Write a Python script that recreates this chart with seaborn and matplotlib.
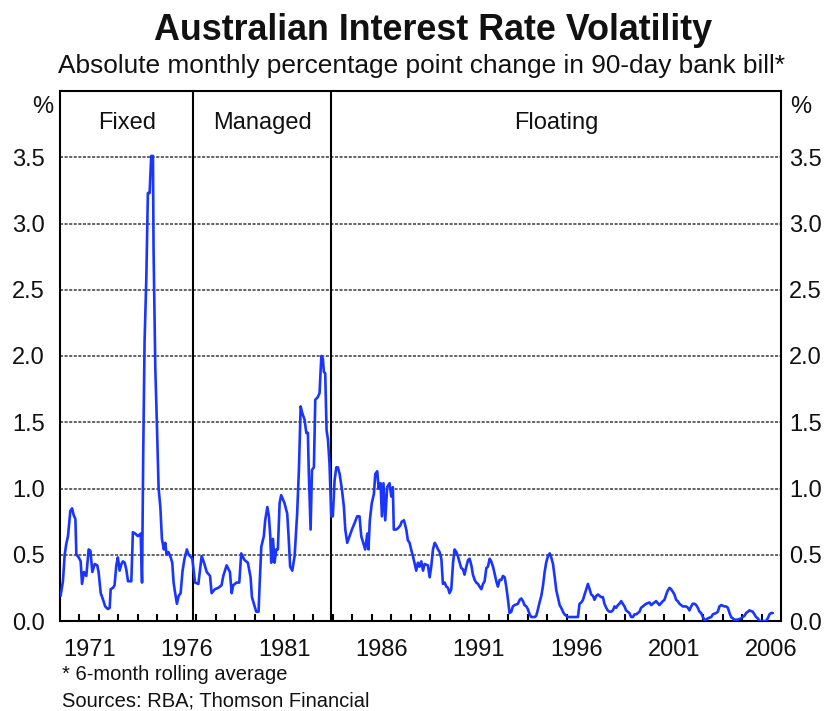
import matplotlib
matplotlib.use("Agg")
import matplotlib.pyplot as plt
import seaborn as sns
import pandas as pd

# ---- data (decimal years, 6-month rolling avg of abs monthly change, % pts) ----
years_fixed = [1970.03, 1970.15, 1970.24, 1970.32, 1970.41, 1970.53, 1970.62, 1970.70, 1970.79, 1970.84,
               1970.96, 1971.06, 1971.13, 1971.23, 1971.35, 1971.47, 1971.56, 1971.66, 1971.78, 1971.91,
               1971.98, 1972.09, 1972.21, 1972.32, 1972.46, 1972.55, 1972.60, 1972.72, 1972.80, 1972.89,
               1972.97, 1973.06, 1973.15, 1973.23, 1973.32, 1973.40, 1973.49, 1973.66, 1973.74, 1973.86,
               1974.00, 1974.14, 1974.21, 1974.27, 1974.34, 1974.43, 1974.51, 1974.60, 1974.68, 1974.77,
               1974.80, 1974.89, 1974.97, 1975.06, 1975.15, 1975.23, 1975.33, 1975.40, 1975.47, 1975.57,
               1975.68, 1975.76, 1975.83, 1975.91, 1976.00, 1976.09, 1976.19, 1976.29, 1976.39, 1976.51,
               1976.60, 1976.68, 1976.79]
vol_fixed = [0.19, 0.30, 0.50, 0.58, 0.64, 0.83, 0.85, 0.80, 0.77, 0.50,
             0.48, 0.45, 0.28, 0.37, 0.34, 0.54, 0.53, 0.37, 0.43, 0.42,
             0.37, 0.21, 0.16, 0.11, 0.09, 0.10, 0.24, 0.25, 0.27, 0.42,
             0.48, 0.38, 0.43, 0.45, 0.44, 0.39, 0.30, 0.30, 0.67, 0.66,
             0.64, 0.66, 0.29, 1.25, 2.11, 2.59, 3.23, 3.23, 3.51, 3.51,
             2.82, 1.91, 1.50, 1.00, 0.86, 0.62, 0.54, 0.59, 0.50, 0.52,
             0.48, 0.44, 0.29, 0.21, 0.13, 0.19, 0.21, 0.38, 0.47, 0.54,
             0.50, 0.49, 0.47]

years_managed = [1976.93, 1977.10, 1977.27, 1977.39, 1977.53, 1977.70, 1977.78, 1977.95, 1978.12, 1978.29,
                 1978.38, 1978.55, 1978.72, 1978.81, 1978.89, 1979.06, 1979.20, 1979.30, 1979.47, 1979.64,
                 1979.78, 1979.85, 1979.95, 1980.07, 1980.19, 1980.24, 1980.33, 1980.46, 1980.53, 1980.64,
                 1980.72, 1980.79, 1980.84, 1980.93, 1981.01, 1981.10, 1981.18, 1981.27, 1981.35, 1981.52,
                 1981.66, 1981.73, 1981.81, 1981.92, 1982.04, 1982.17, 1982.26, 1982.35, 1982.43, 1982.55,
                 1982.64, 1982.72, 1982.77, 1982.86, 1982.93, 1983.03, 1983.10, 1983.23, 1983.32, 1983.41,
                 1983.49, 1983.54, 1983.61, 1983.68, 1983.75, 1983.83]
vol_managed = [0.29, 0.28, 0.49, 0.44, 0.37, 0.34, 0.21, 0.24, 0.25, 0.27,
               0.34, 0.42, 0.37, 0.21, 0.27, 0.29, 0.29, 0.51, 0.46, 0.44,
               0.33, 0.18, 0.13, 0.07, 0.07, 0.26, 0.56, 0.64, 0.76, 0.86,
               0.79, 0.64, 0.44, 0.62, 0.44, 0.54, 0.54, 0.89, 0.95, 0.89,
               0.81, 0.64, 0.41, 0.38, 0.49, 0.81, 1.14, 1.62, 1.57, 1.52,
               1.42, 1.42, 1.11, 0.69, 1.14, 1.16, 1.67, 1.69, 1.72, 2.00,
               1.98, 1.88, 1.87, 1.44, 1.37, 1.19]

years_floating = [1983.92, 1984.00, 1984.09, 1984.18, 1984.26, 1984.35, 1984.47, 1984.57, 1984.64, 1984.74,
                  1984.86, 1984.98, 1985.12, 1985.25, 1985.37, 1985.46, 1985.56, 1985.66, 1985.77, 1985.83,
                  1985.90, 1986.00, 1986.11, 1986.18, 1986.28, 1986.35, 1986.45, 1986.52, 1986.60, 1986.69,
                  1986.79, 1986.91, 1987.00, 1987.08, 1987.13, 1987.25, 1987.34, 1987.46, 1987.54, 1987.65,
                  1987.77, 1987.85, 1987.94, 1988.02, 1988.11, 1988.19, 1988.28, 1988.37, 1988.45, 1988.54,
                  1988.63, 1988.71, 1988.88, 1988.97, 1989.05, 1989.14, 1989.23, 1989.31, 1989.40, 1989.48,
                  1989.57, 1989.65, 1989.74, 1989.82, 1989.91, 1989.99, 1990.08, 1990.17, 1990.25, 1990.34,
                  1990.42, 1990.51, 1990.59, 1990.68, 1990.76, 1990.85, 1990.94, 1991.02, 1991.11, 1991.19,
                  1991.28, 1991.36, 1991.45, 1991.53, 1991.62, 1991.71, 1991.79, 1991.88, 1991.96, 1992.05,
                  1992.13, 1992.22, 1992.30, 1992.39, 1992.47, 1992.56, 1992.65, 1992.73, 1992.82, 1992.90,
                  1992.99, 1993.07, 1993.16, 1993.24, 1993.33, 1993.50, 1993.59, 1993.67, 1993.76, 1993.84,
                  1993.93, 1994.01, 1994.10, 1994.18, 1994.36, 1994.44, 1994.53, 1994.61, 1994.70, 1994.78,
                  1994.87, 1994.95, 1995.04, 1995.13, 1995.21, 1995.30, 1995.38, 1995.47, 1995.55, 1995.64,
                  1995.72, 1995.81, 1995.89, 1995.98, 1996.07, 1996.32, 1996.58, 1996.66, 1996.75, 1996.84,
                  1996.92, 1997.01, 1997.09, 1997.18, 1997.26, 1997.35, 1997.43, 1997.52, 1997.61]
vol_floating = [0.79, 0.79, 1.06, 1.16, 1.16, 1.11, 0.99, 0.86, 0.69, 0.59,
                0.64, 0.69, 0.74, 0.79, 0.79, 0.64, 0.59, 0.54, 0.66, 0.54,
                0.76, 0.89, 0.96, 1.11, 1.13, 1.00, 1.04, 0.79, 1.04, 0.76,
                1.01, 1.04, 0.94, 1.01, 0.69, 0.69, 0.70, 0.72, 0.75, 0.76,
                0.69, 0.61, 0.59, 0.54, 0.49, 0.44, 0.38, 0.44, 0.41, 0.45,
                0.38, 0.43, 0.42, 0.33, 0.41, 0.54, 0.59, 0.57, 0.54, 0.52,
                0.47, 0.28, 0.29, 0.26, 0.25, 0.21, 0.24, 0.44, 0.54, 0.52,
                0.49, 0.44, 0.40, 0.39, 0.35, 0.41, 0.46, 0.47, 0.42, 0.35,
                0.31, 0.29, 0.28, 0.26, 0.24, 0.28, 0.30, 0.40, 0.41, 0.47,
                0.45, 0.41, 0.36, 0.30, 0.26, 0.31, 0.31, 0.34, 0.33, 0.26,
                0.16, 0.06, 0.07, 0.11, 0.12, 0.13, 0.16, 0.17, 0.15, 0.12,
                0.11, 0.09, 0.05, 0.03, 0.03, 0.04, 0.09, 0.14, 0.19, 0.26,
                0.37, 0.44, 0.49, 0.51, 0.48, 0.43, 0.34, 0.23, 0.18, 0.12,
                0.10, 0.07, 0.05, 0.04, 0.03, 0.03, 0.03, 0.13, 0.14, 0.16,
                0.20, 0.24, 0.28, 0.24, 0.20, 0.19, 0.16, 0.19, 0.20]

years_recent = [1997.77, 1997.86, 1997.94, 1998.03, 1998.11, 1998.20, 1998.28, 1998.37, 1998.46, 1998.54,
                1998.63, 1998.71, 1998.80, 1998.88, 1998.97, 1999.05, 1999.14, 1999.22, 1999.31, 1999.40,
                1999.48, 1999.57, 1999.65, 1999.74, 1999.82, 1999.91, 1999.99, 2000.08, 2000.25, 2000.34,
                2000.42, 2000.59, 2000.76, 2000.94, 2001.02, 2001.11, 2001.19, 2001.28, 2001.36, 2001.45,
                2001.53, 2001.62, 2001.70, 2001.79, 2001.88, 2001.96, 2002.13, 2002.22, 2002.30, 2002.39,
                2002.47, 2002.56, 2002.65, 2002.73, 2002.82, 2002.90, 2002.99, 2003.07, 2003.16, 2003.24,
                2003.42, 2003.50, 2003.67, 2003.76, 2003.84, 2003.93, 2004.10, 2004.18, 2004.27, 2004.36,
                2004.44, 2004.61, 2004.78, 2004.95, 2005.13, 2005.21, 2005.30, 2005.38, 2005.55, 2005.64,
                2005.72, 2005.81, 2005.90, 2006.24, 2006.32, 2006.41, 2006.49, 2006.58]
vol_recent = [0.18, 0.18, 0.13, 0.10, 0.08, 0.07, 0.07, 0.08, 0.11, 0.10,
              0.12, 0.13, 0.15, 0.13, 0.11, 0.08, 0.07, 0.06, 0.03, 0.03,
              0.05, 0.05, 0.06, 0.07, 0.10, 0.11, 0.12, 0.13, 0.14, 0.12,
              0.13, 0.15, 0.12, 0.15, 0.16, 0.20, 0.23, 0.25, 0.24, 0.22,
              0.20, 0.16, 0.15, 0.13, 0.12, 0.11, 0.11, 0.10, 0.08, 0.11,
              0.13, 0.13, 0.12, 0.10, 0.07, 0.06, 0.03, 0.01, 0.01, 0.02,
              0.03, 0.05, 0.06, 0.07, 0.11, 0.12, 0.11, 0.11, 0.10, 0.06,
              0.03, 0.01, 0.01, 0.02, 0.04, 0.06, 0.07, 0.08, 0.07, 0.05,
              0.03, 0.02, 0.00, 0.00, 0.02, 0.05, 0.06, 0.06]

regimes = ["Fixed", "Managed", "Floating"]
regime_breaks = [1976.84, 1983.92]          # Nov 1976, Dec 1983
y_ticks = [0.0, 0.5, 1.0, 1.5, 2.0, 2.5, 3.0, 3.5]
x_label_years = [1971, 1976, 1981, 1986, 1991, 1996, 2001, 2006]

title = "Australian Interest Rate Volatility"
subtitle = "Absolute monthly percentage point change in 90-day bank bill*"
note1 = "* 6-month rolling average"
note2 = "Sources: RBA; Thomson Financial"

df = pd.DataFrame({
    "year": years_fixed + years_managed + years_floating + years_recent,
    "vol": vol_fixed + vol_managed + vol_floating + vol_recent,
})

# ---- styling ----
sns.set_theme(style="white")
plt.rcParams["font.family"] = ["Liberation Sans", "DejaVu Sans"]
TXT = "#111111"

W, H = 828, 711
fig = plt.figure(figsize=(W / 100, H / 100), dpi=100)
L, R, T, B = 60, 781, 91, 621
ax = fig.add_axes([L / W, 1 - B / H, (R - L) / W, (B - T) / H])

XMIN, XMAX = 1970.0, 2007.0
ax.set_xlim(XMIN, XMAX)
ax.set_ylim(0, 4.0)

# grid lines
for yv in y_ticks[1:]:
    ax.axhline(yv, color="#3a3a3a", lw=1.1, ls=(0, (2, 1)), zorder=1)
for xb in regime_breaks:
    ax.axvline(xb, color="black", lw=1.5, zorder=2)

sns.lineplot(data=df, x="year", y="vol", ax=ax, color="#1a35ff", lw=1.9,
             estimator=None, sort=False, zorder=3)

# regime labels
edges = [XMIN] + regime_breaks + [XMAX]
for i, name in enumerate(regimes):
    ax.text((edges[i] + edges[i + 1]) / 2, 3.76, name, ha="center", va="center",
            fontsize=17, color=TXT)

# spines
for s in ax.spines.values():
    s.set_visible(True)
    s.set_color("black")
    s.set_linewidth(1.5)

# left y tick labels
ax.set_yticks(y_ticks)
ax.set_yticklabels([f"{v:.1f}" for v in y_ticks])
ax.tick_params(axis="y", which="both", length=0, labelsize=17, labelcolor=TXT,
               left=False, right=False, labelleft=True, labelright=False, pad=11)

# right y tick labels
ax2 = ax.twinx()
ax2.set_ylim(ax.get_ylim())
ax2.set_yticks(y_ticks)
ax2.set_yticklabels([f"{v:.1f}" for v in y_ticks])
ax2.tick_params(axis="y", length=0, labelsize=17, labelcolor=TXT, pad=6)
ax2.grid(False)
for s in ax2.spines.values():
    s.set_visible(False)

# x ticks: year boundaries inward, labels mid-year
ax.set_xticks(list(range(1971, 2007)))
ax.set_xticklabels([""] * len(range(1971, 2007)))
ax.tick_params(axis="x", which="major", direction="in", length=5, width=1.5,
               color="black", bottom=True, top=False)
ax.set_xticks([y + 0.5 for y in x_label_years], minor=True)
ax.set_xticklabels([str(y) for y in x_label_years], minor=True)
ax.tick_params(axis="x", which="minor", length=0, labelsize=17, labelcolor=TXT, pad=13)
ax.set_xlabel("")
ax.set_ylabel("")

# % unit labels
ax.text(-0.009, 3.88, "%", transform=ax.get_yaxis_transform(), ha="right", va="center",
        fontsize=17, color=TXT)
ax.text(1.012, 3.88, "%", transform=ax.get_yaxis_transform(), ha="left", va="center",
        fontsize=17, color=TXT)

# titles
fig.text(433 / W, 1 - 31 / H, title, ha="center", va="center", fontsize=25.8,
         fontweight="bold", color=TXT)
fig.text(422 / W, 1 - 66 / H, subtitle, ha="center", va="center", fontsize=18.9,
         color=TXT)
fig.text(62 / W, 1 - 675 / H, note1, ha="left", va="center", fontsize=14.5, color=TXT)
fig.text(62 / W, 1 - 701 / H, note2, ha="left", va="center", fontsize=14.5, color=TXT)

fig.savefig("out.png", dpi=100)
